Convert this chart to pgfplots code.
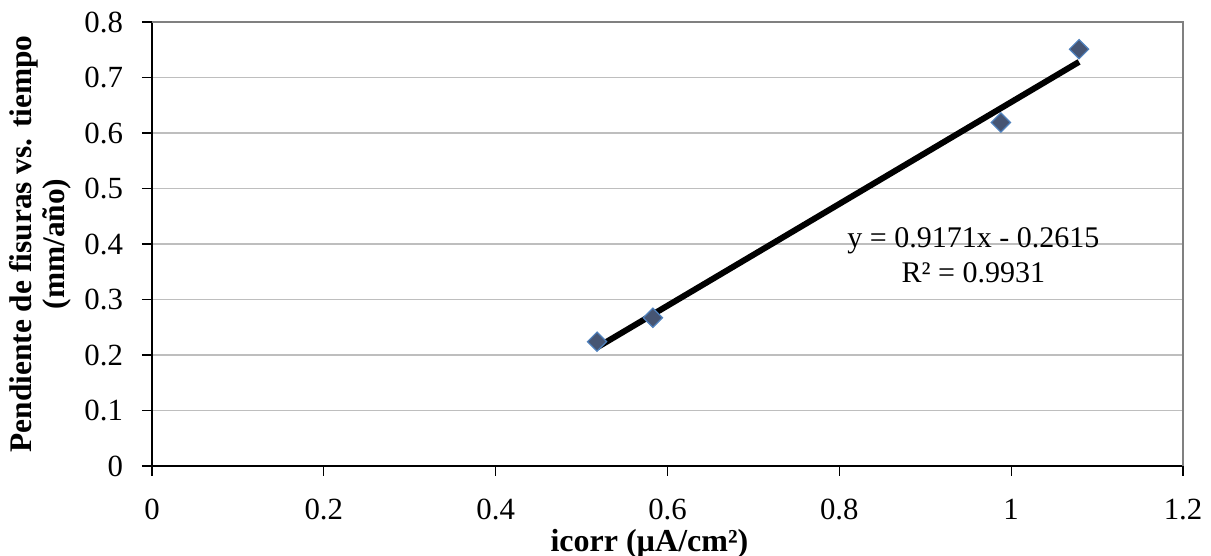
\documentclass[border=0pt]{standalone}
\usepackage{pgfplots}
\pgfplotsset{compat=1.18}
\usepackage{fontspec}
\setmainfont{Liberation Serif}
\definecolor{mfill}{RGB}{70,85,115}
\definecolor{mdraw}{RGB}{79,129,189}
\definecolor{gridc}{RGB}{190,190,190}
\definecolor{framec}{RGB}{128,128,128}
\begin{document}
\begin{tikzpicture}
\begin{axis}[
  name=ax,
  scale only axis,
  width=515.5pt, height=222pt,
  xmin=0, xmax=1.2, ymin=0, ymax=0.8,
  xtick={0,0.2,...,1.2},
  ytick={0,0.1,...,0.8},
  axis x line*=bottom, axis y line*=left,
  axis line style={black, line width=0.9pt},
  tick align=outside,
  major tick length=5pt,
  tick style={black, line width=0.6pt},
  ymajorgrids,
  major grid style={gridc, line width=0.6pt},
  /pgf/number format/assume math mode=true,
  ticklabel style={font=\fontsize{15.4}{18}\selectfont},
  xticklabel style={yshift=-8pt},
  yticklabel style={xshift=-6pt},
  xlabel={\textbf{icorr (µA/cm²)}},
  ylabel={\textbf{Pendiente de fisuras vs. tiempo}\\\textbf{(mm/año)}},
  xlabel style={at={(axis description cs:0.4825,-0.1760)}, anchor=center, font=\fontsize{16}{18}\selectfont},
  ylabel style={at={(axis description cs:-0.1080,0.5)}, anchor=center, align=center, font=\fontsize{15.7}{16.5}\selectfont},
  clip=false,
]
\draw[framec, line width=0.9pt] (rel axis cs:0,1) -- (rel axis cs:1,1) -- (rel axis cs:1,0);
\addplot[only marks, mark=square*, mark size=3.4pt, mark options={rotate=45, fill=mfill, draw=mdraw, line width=0.6pt}]
  coordinates {(0.518,0.224) (0.583,0.267) (0.988,0.619) (1.079,0.751)};
\addplot[black, line width=3pt] coordinates {(0.518,0.2136) (1.079,0.7281)};
\node[font=\fontsize{15}{17.5}\selectfont, align=center] at (axis cs:0.956,0.379) {y = 0.9171x - 0.2615\\R² = 0.9931};
\end{axis}
\pgfresetboundingbox
\path (ax.south west) ++(-76pt,-45pt) rectangle ++(605.5pt,278pt);
\end{tikzpicture}
\end{document}
